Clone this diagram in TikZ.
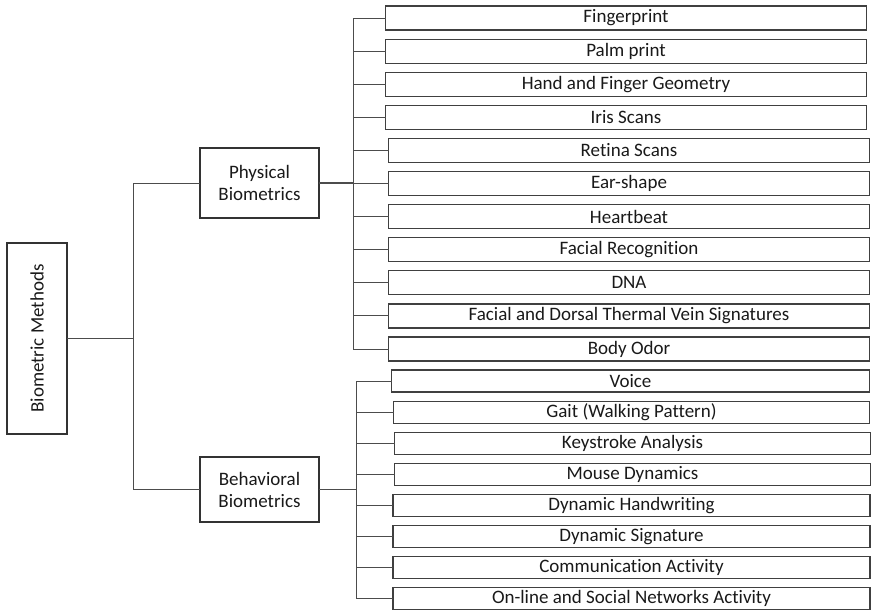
\documentclass[tikz,border=0pt]{standalone}
\usepackage{fontspec}
\setmainfont{Carlito}[Ligatures=NoCommon]
\usepackage{graphicx}
\usetikzlibrary{positioning}

\begin{document}
\begin{tikzpicture}[x=1pt, y=-1pt, node distance=9.1pt,
    mainbox/.style={rectangle, draw=black!80, line width=1.6pt, align=center, outer sep=0pt,
        text=black!90, font=\fontsize{19}{22}\selectfont},
    leafbox/.style={rectangle, draw=black!75, line width=1.2pt, minimum width=481pt,
        minimum height=24pt, inner sep=1pt, outer sep=0pt, text=black!90,
        font=\fontsize{19}{22}\selectfont},
    link/.style={draw=black!70, line width=1pt}]
    \useasboundingbox (0,0) rectangle (874,611);

    % Root
    \node [mainbox, line width=1.1pt, minimum width=60pt, minimum height=191pt] (root) at (37,338.5)
        {\rotatebox{90}{Biometric Methods}};

    % Categories
    \node [mainbox, minimum width=119pt, minimum height=70pt] (phys) at (259.5,183) {Physical\\Biometrics};
    \node [mainbox, minimum width=119pt, minimum height=65pt] (behav) at (259.5,489.5) {Behavioral\\Biometrics};

    % Physical traits
    \node [leafbox] (finger) at (626,18) {Fingerprint};
    \node [leafbox, below=of finger] (palm) {Palm print};
    \node [leafbox, below=of palm] (hand) {Hand and Finger Geometry};
    \node [leafbox, below=of hand] (iris) {Iris Scans};
    \node [leafbox, below=of iris, xshift=3pt] (retina) {Retina Scans};
    \node [leafbox, below=of retina] (ear) {Ear-shape};
    \node [leafbox, below=of ear] (heart) {Heartbeat};
    \node [leafbox, below=of heart] (face) {Facial Recognition};
    \node [leafbox, below=of face] (dna) {DNA};
    \node [leafbox, below=of dna] (vein) {Facial and Dorsal Thermal Vein Signatures};
    \node [leafbox, below=of vein] (odor) {Body Odor};

    % Behavioral traits
    \node [leafbox, minimum width=478pt, minimum height=22pt] (voice) at (630.5,381) {Voice};
    \node [leafbox, minimum width=476pt, minimum height=22pt, below=of voice, xshift=1pt] (gait) {Gait (Walking Pattern)};
    \node [leafbox, minimum width=476pt, minimum height=22pt, below=of gait, xshift=1pt] (keys) {Keystroke Analysis};
    \node [leafbox, minimum width=476pt, minimum height=22pt, below=of keys] (mouse) {Mouse Dynamics};
    \node [leafbox, minimum width=477pt, minimum height=22pt, below=of mouse, xshift=-1pt] (handw) {Dynamic Handwriting};
    \node [leafbox, minimum width=477pt, minimum height=22pt, below=of handw] (sign) {Dynamic Signature};
    \node [leafbox, minimum width=477pt, minimum height=22pt, below=of sign] (comm) {Communication Activity};
    \node [leafbox, minimum width=477pt, minimum height=22pt, below=of comm] (social) {On-line and Social Networks Activity};

    % Junctions
    \coordinate (rj) at (133,338.5);
    \coordinate (pj) at (353,183);
    \coordinate (bj) at (356,489.5);

    % Root links
    \draw [link] (root.east) -- (rj) |- (phys.west);
    \draw [link] (rj) |- (behav.west);

    % Physical links
    \draw [link, line width=1.6pt] (phys.east) -- (pj);
    \draw [link] (pj) |- (finger.west);
    \draw [link] (pj) |- (palm.west);
    \draw [link] (pj) |- (hand.west);
    \draw [link] (pj) |- (iris.west);
    \draw [link] (pj) |- (retina.west);
    \draw [link] (pj) |- (ear.west);
    \draw [link] (pj) |- (heart.west);
    \draw [link] (pj) |- (face.west);
    \draw [link] (pj) |- (dna.west);
    \draw [link] (pj) |- (vein.west);
    \draw [link] (pj) |- (odor.west);

    % Behavioral links
    \draw [link, line width=1.6pt] (behav.east) -- (bj);
    \draw [link] (bj) |- (voice.west);
    \draw [link] (bj) |- (gait.west);
    \draw [link] (bj) |- (keys.west);
    \draw [link] (bj) |- (mouse.west);
    \draw [link] (bj) |- (handw.west);
    \draw [link] (bj) |- (sign.west);
    \draw [link] (bj) |- (comm.west);
    \draw [link] (bj) |- (social.west);
\end{tikzpicture}
\end{document}
